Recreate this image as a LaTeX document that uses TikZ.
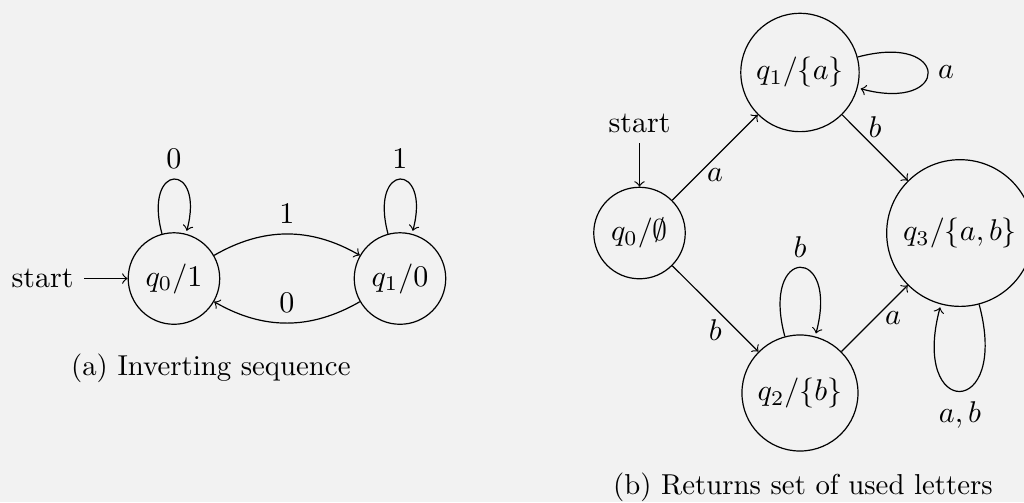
\documentclass[tikz,border=0pt]{standalone}
\usepackage{amsmath}
\usepackage{amssymb}
\usepackage{xcolor}
\usepackage{tikz}
\usetikzlibrary{automata, positioning}
\definecolor{pageBg}{HTML}{F2F2F2}

\begin{document}
\begin{tikzpicture}[caption/.style={anchor=base, font=\fontsize{9.6pt}{12pt}\selectfont}]
    \fill[pageBg] (0, 0) rectangle (11.9965, 5.8811);
    \useasboundingbox (0, 0) rectangle (11.9965, 5.8811);

    % (a) inverting sequence
    \node[state] (a0) at (2.038, 2.618) {\(q_0/1\)};
    \node[state] (a1) at (4.686, 2.618) {\(q_1/0\)};
    \node (startA) [left=14.5pt of a0] {start};
    \draw[->] (startA) -- (a0);
    \draw[->] (a0) edge[loop above] node[above] {\(0\)} (a0)
          (a0) edge[bend left] node[above] {\(1\)} (a1)
          (a1) edge[loop above] node[above] {\(1\)} (a1)
          (a1) edge[bend left] node[above] {\(0\)} (a0);
    \node[caption] (capA) at (2.470, 1.478) {(a) Inverting sequence};

    % (b) set of used letters
    \node[state] (b0) at (7.492, 3.151) {\(q_0/\emptyset\)};
    \node[state] (b1) at (9.372, 5.032) {\(q_1/\{a\}\)};
    \node[state] (b2) at (9.372, 1.277) {\(q_2/\{b\}\)};
    \node[state, minimum size=48.9pt] (b3) at (11.247, 3.151) {\(q_3/\{a, b\}\)};
    \node (startB) [above=14.5pt of b0] {start};
    \draw[->] (startB) -- (b0);
    \draw[->] (b0) edge node[below] {\(a\)} (b1)
          (b0) edge node[below] {\(b\)} (b2)
          (b1) edge[loop right] node[right] {\(a\)} (b1)
          (b1) edge node[above] {\(b\)} (b3)
          (b2) edge[loop above] node[above] {\(b\)} (b2)
          (b2) edge node[right] {\(a\)} (b3)
          (b3) edge[loop below] node[below] {\(a, b\)} (b3);
    \node[caption] (capB) at (9.407, 0.091) {(b) Returns set of used letters};
\end{tikzpicture}
\end{document}
